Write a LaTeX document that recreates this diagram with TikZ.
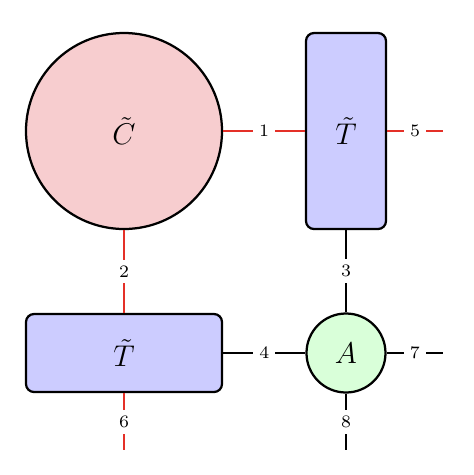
\documentclass[tikz,border=0pt]{standalone}
\usepackage{amsmath}
\definecolor{legred}{RGB}{228,48,40}
\definecolor{cfill}{RGB}{247,205,207}
\definecolor{tfill}{RGB}{204,204,255}
\definecolor{afill}{RGB}{217,255,217}
\begin{document}
\begin{tikzpicture}[x=0.4pt,y=-0.4pt,
  tensor/.style={draw=black, line width=0.9pt, inner sep=0pt, font=\large},
  leg/.style={line width=0.9pt},
  redleg/.style={line width=0.9pt, draw=legred},
  idx/.style={midway, fill=white, inner sep=2.4pt, font=\fontsize{7}{8}\selectfont}]
\useasboundingbox (0,0) rectangle (474,475);
\node[tensor, circle, fill=cfill, minimum size=78.4pt] (C) at (124,131) {$\tilde{C}$};
\node[tensor, rectangle, rounded corners=3.2pt, fill=tfill, minimum width=32pt, minimum height=78.4pt] (T1) at (346,131) {$\tilde{T}$};
\node[tensor, rectangle, rounded corners=3.2pt, fill=tfill, minimum width=78.4pt, minimum height=31.2pt] (T2) at (124,353) {$\tilde{T}$};
\node[tensor, circle, fill=afill, minimum size=31.6pt] (A) at (346,353) {$A$};
\coordinate (e5) at (443,131);
\coordinate (e6) at (124,450);
\coordinate (e7) at (443,353);
\coordinate (e8) at (346,450);
\draw[redleg] (C) -- node[idx] {1} (T1);
\draw[redleg] (T1) -- node[idx] {5} (e5);
\draw[redleg] (C) -- node[idx] {2} (T2);
\draw[redleg] (T2) -- node[idx] {6} (e6);
\draw[leg] (T1) -- node[idx] {3} (A);
\draw[leg] (T2) -- node[idx] {4} (A);
\draw[leg] (A) -- node[idx] {7} (e7);
\draw[leg] (A) -- node[idx] {8} (e8);
\end{tikzpicture}
\end{document}
